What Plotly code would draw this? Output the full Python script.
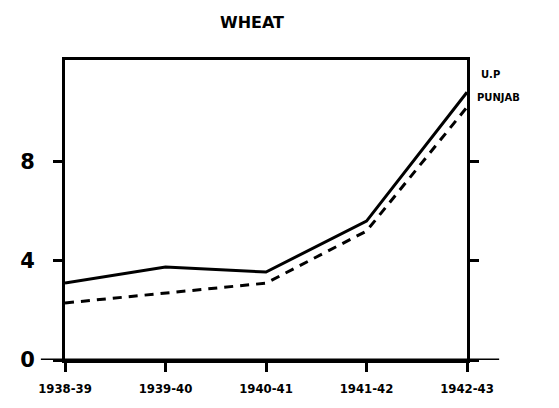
import plotly.graph_objects as go

years = ["1938-39", "1939-40", "1940-41", "1941-42", "1942-43"]
up_values = [3.1, 3.75, 3.55, 5.6, 10.8]
punjab_values = [2.3, 2.7, 3.1, 5.2, 10.2]
y_ticks = [0, 4, 8]
series_names = ["U.P", "PUNJAB"]

x_idx = list(range(len(years)))

fig = go.Figure()
fig.add_trace(go.Scatter(x=x_idx, y=up_values, mode="lines", name=series_names[0],
                         line=dict(color="black", width=3)))
fig.add_trace(go.Scatter(x=x_idx, y=punjab_values, mode="lines", name=series_names[1],
                         line=dict(color="black", width=3, dash="9px,7px")))

font = dict(family="DejaVu Sans", color="black", weight="bold")

fig.update_layout(
    width=551, height=400,
    margin=dict(l=56, r=92, t=52, b=45),
    paper_bgcolor="white", plot_bgcolor="white",
    showlegend=False,
    xaxis=dict(range=[0, 4], tickmode="array", tickvals=x_idx, ticktext=years,
               showgrid=False, zeroline=False, showline=True, mirror=True,
               linecolor="black", linewidth=3, ticks="outside", ticklen=9,
               tickwidth=3, tickcolor="black", ticklabelstandoff=5,
               tickfont=dict(size=13, family="DejaVu Sans Condensed", color="black", weight="bold")),
    yaxis=dict(range=[0, 12.1], tickmode="array", tickvals=y_ticks,
               showgrid=False, zeroline=False, showline=True, mirror="ticks",
               linecolor="black", linewidth=3, ticks="outside", ticklen=9,
               tickwidth=3, tickcolor="black", ticklabelstandoff=14,
               tickfont=dict(size=21, **font)),
    shapes=[dict(type="line", xref="paper", yref="y", x0=-0.06, x1=1.08, y0=0, y1=0,
                 line=dict(color="black", width=3))],
    annotations=[
        dict(text="WHEAT", xref="paper", yref="paper", x=0.464, y=1.0, yshift=38,
             showarrow=False, xanchor="center", yanchor="middle",
             font=dict(size=16, **font)),
        dict(text=series_names[0], xref="paper", yref="y", x=1.03, y=11.5,
             showarrow=False, xanchor="left", yanchor="middle",
             font=dict(size=10, **font)),
        dict(text=series_names[1], xref="paper", yref="y", x=1.02, y=10.6,
             showarrow=False, xanchor="left", yanchor="middle",
             font=dict(size=10, **font)),
    ],
)

fig.write_html("out.html")
